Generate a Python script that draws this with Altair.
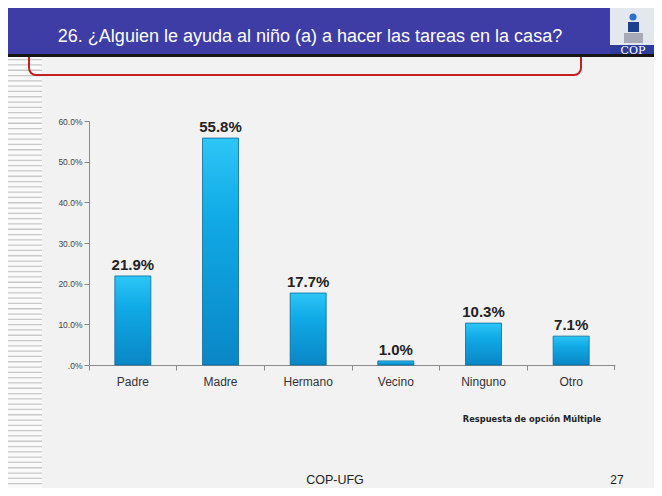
import altair as alt
import pandas as pd

categories = ["Padre", "Madre", "Hermano", "Vecino", "Ninguno", "Otro"]
values = [21.9, 55.8, 17.7, 1.0, 10.3, 7.1]
y_ticks = [0, 10, 20, 30, 40, 50, 60]
title_text = "26. ¿Alguien le ayuda al niño (a) a hacer las tareas en la casa?"
note_text = "Respuesta de opción Múltiple"
footer_text = "COP-UFG"
page_number = "27"
logo_text = "COP"

df = pd.DataFrame({"cat": categories, "val": values,
                   "label": [f"{v:.1f}%" for v in values]})
one = pd.DataFrame({"k": [0]})

W, H = 526, 244

x_enc = alt.X("cat:N", sort=categories,
              scale=alt.Scale(paddingInner=0, paddingOuter=0),
              axis=alt.Axis(title=None, labelAngle=0, bandPosition=0, tickSize=5,
                            domainColor="#8a8a8a", tickColor="#8a8a8a",
                            labelFontSize=12, labelColor="#333333", labelPadding=6,
                            labelFont="Liberation Sans"))
y_enc = alt.Y("val:Q", scale=alt.Scale(domain=[0, 60], nice=False),
              axis=alt.Axis(title=None, values=y_ticks, grid=False, tickSize=5,
                            domainColor="#8a8a8a", tickColor="#8a8a8a",
                            labelExpr="datum.value == 0 ? '.0%' : format(datum.value, '.1f') + '%'",
                            labelFontSize=8.5, labelColor="#444444", labelPadding=2,
                            labelFont="Liberation Sans"))

deco = alt.Chart(one)

stripes_bg = deco.mark_rect(color="#fafafa").encode(
    x=alt.value(-81), x2=alt.value(-47), y=alt.value(-64), y2=alt.value(370))
stripes = deco.mark_rule(strokeWidth=34, strokeDash=[1.3, 4.0], color="#c8c8c8").encode(
    x=alt.value(-64), y=alt.value(-62), y2=alt.value(370))

red_box = deco.mark_rect(filled=False, stroke="#c42020", strokeWidth=2, cornerRadius=7).encode(
    x=alt.value(-60), x2=alt.value(492), y=alt.value(-85), y2=alt.value(-46))

banner = deco.mark_rect(color="#3d3da5").encode(
    x=alt.value(-81), x2=alt.value(521), y=alt.value(-113), y2=alt.value(-67))
black_line = deco.mark_rule(strokeWidth=3, color="#151515").encode(
    x=alt.value(-81), x2=alt.value(575), y=alt.value(-65.5))

logo_bg = deco.mark_rect(color="#e3e8ef").encode(
    x=alt.value(521), x2=alt.value(567), y=alt.value(-113), y2=alt.value(-67))
logo_drop = deco.mark_point(filled=True, size=50, color="#2a6fd0", opacity=1).encode(
    x=alt.value(544), y=alt.value(-104))
logo_body = deco.mark_rect(color="#1f3f8f").encode(
    x=alt.value(539), x2=alt.value(550), y=alt.value(-99), y2=alt.value(-89))
logo_gray = deco.mark_rect(color="#a8aab8").encode(
    x=alt.value(535), x2=alt.value(554), y=alt.value(-88), y2=alt.value(-78))
logo_band = deco.mark_rect(color="#2b3c9a").encode(
    x=alt.value(521), x2=alt.value(567), y=alt.value(-76), y2=alt.value(-67))
logo_txt = deco.mark_text(text=logo_text, font="DejaVu Serif", fontSize=11,
                          color="white", baseline="alphabetic").encode(
    x=alt.value(544), y=alt.value(-67.5))

title = deco.mark_text(text=title_text, font="Liberation Sans", fontSize=18,
                       color="white", baseline="alphabetic").encode(
    x=alt.value(221), y=alt.value(-79))

note = deco.mark_text(text=note_text, font="DejaVu Sans", fontSize=8.3,
                      fontWeight="bold", color="#222222", baseline="alphabetic").encode(
    x=alt.value(443), y=alt.value(301))
footer = deco.mark_text(text=footer_text, font="Liberation Sans", fontSize=12.5,
                        color="#222222", baseline="alphabetic").encode(
    x=alt.value(246), y=alt.value(363))
page = deco.mark_text(text=page_number, font="Liberation Sans", fontSize=12,
                      color="#222222", baseline="alphabetic").encode(
    x=alt.value(528), y=alt.value(363))

end_tick = deco.mark_rule(color="#8a8a8a").encode(
    x=alt.value(W - 0.5), y=alt.value(H), y2=alt.value(H + 5))

bar_fill = alt.Gradient(gradient="linear", x1=0, x2=0, y1=0, y2=1,
                        stops=[alt.GradientStop(color="#2cc6f7", offset=0),
                               alt.GradientStop(color="#10aae6", offset=0.35),
                               alt.GradientStop(color="#0a86c6", offset=1)])

base = alt.Chart(df)
bars = base.mark_bar(width=36, color=bar_fill, stroke="#0a6a9a", strokeWidth=0.8).encode(
    x=x_enc, y=y_enc)
labels = base.mark_text(fontSize=15, fontWeight="bold", color="#222222",
                        baseline="alphabetic", dy=-6, font="Liberation Sans").encode(
    x=x_enc, y=y_enc, text="label:N")

chart = alt.layer(
    stripes_bg, stripes, red_box, banner, black_line,
    logo_bg, logo_drop, logo_body, logo_gray, logo_band, logo_txt,
    title, bars, labels, end_tick, note, footer, page
).properties(
    width=W, height=H,
    padding={"left": 81, "top": 113, "right": 39, "bottom": 123},
    autosize=alt.AutoSizeParams(type="none"),
).configure(background="#f2f2f2").configure_view(stroke=None)

chart.save("out.html", embed_options={"renderer": "svg", "actions": False})
